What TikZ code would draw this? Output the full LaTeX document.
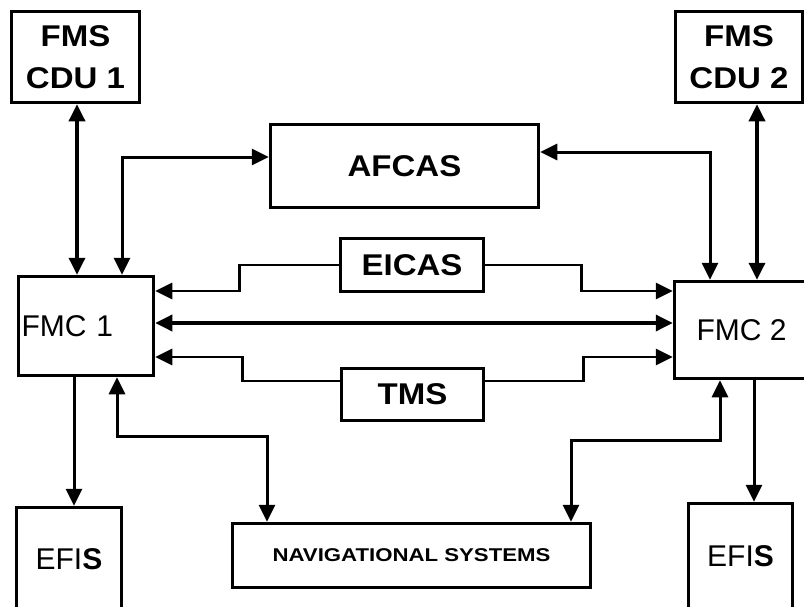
\documentclass[tikz,border=0pt]{standalone}
\usepackage{fontspec}
\setmainfont{Liberation Sans}
\newfontfamily\boldwide[FakeStretch=1.1]{Liberation Sans}
\newfontfamily\navfont[FakeStretch=1.2]{Liberation Sans}
\usetikzlibrary{arrows.meta}
\begin{document}
\begin{tikzpicture}[x=1pt,y=-1pt,
  >={Triangle[length=17pt 0 0,width=16pt 0 0]},
  box/.style={draw, line width=3.5pt, inner sep=0pt},
  big/.style={font=\boldwide\bfseries\fontsize{30}{42}\selectfont, align=center},
  reg/.style={font=\fontsize{30}{36}\selectfont},
  nav/.style={font=\navfont\bfseries\fontsize{18.5}{22}\selectfont},
  link/.style={line width=3pt},
  thinlink/.style={line width=2.7pt}]
\fill[white] (0,0) rectangle (804,606);
\useasboundingbox (0,0) rectangle (804,606);

% boxes
\node[box, big, minimum width=128pt, minimum height=91pt] (cdu1) at (75.5,57) {FMS\\CDU 1};
\node[box, big, minimum width=127pt, minimum height=91pt] (cdu2) at (739,57) {FMS\\CDU 2};
\node[box, big, minimum width=268pt, minimum height=83pt] (afcas) at (404.5,166) {AFCAS};
\node[box, big, minimum width=143pt, minimum height=53pt] (eicas) at (412,265) {EICAS};
\node[box, big, minimum width=142pt, minimum height=52pt] (tms) at (412.5,394.5) {TMS};
\node[box, reg, minimum width=135pt, minimum height=99pt, text width=129pt, inner xsep=3pt, align=left] (fmc1) at (86,326) {FMC 1};
\node[box, reg, minimum width=134pt, minimum height=97pt] (fmc2) at (741.5,330) {FMC 2};
\node[box, reg, minimum width=105pt, minimum height=103pt] (efis1) at (69,559) {EFI\textbf{S}};
\node[box, reg, minimum width=104pt, minimum height=105pt] (efis2) at (740.5,556) {EFI\textbf{S}};
\node[box, nav, minimum width=358pt, minimum height=64pt] (nav) at (411.5,555.5) {NAVIGATIONAL SYSTEMS};

% connectors
\draw[link, line width=3.5pt, <->] ([xshift=1.5pt]cdu1.south) -- ([xshift=-9pt]fmc1.north);
\draw[link, line width=3.5pt, <->] ([xshift=18pt]cdu2.south) -- ([xshift=15.5pt]fmc2.north);
\draw[link, <->] ([yshift=9pt]afcas.west) -| ([xshift=36pt]fmc1.north);
\draw[link, <->] ([yshift=14pt]afcas.east) -| ([xshift=-31.5pt]fmc2.north);
\draw[thinlink, ->] (eicas.west) -| ++(-99,26) -- ([yshift=35pt]fmc1.east);
\draw[thinlink, ->] (eicas.east) -| ++(96,26) -- ([yshift=39pt]fmc2.west);
\draw[link, line width=3.5pt, <->] ([yshift=3pt]fmc1.east) -- ([yshift=7pt]fmc2.west);
\draw[thinlink, ->] ([yshift=13.5pt]tms.west) -| ++(-97,-24) -- ([yshift=-31pt]fmc1.east);
\draw[thinlink, ->] ([yshift=13.5pt]tms.east) -| ++(98,-24) -- ([yshift=-27pt]fmc2.west);
\draw[link, <->] ([xshift=31pt]fmc1.south) -- ++(0,59) -| ([xshift=-144.5pt]nav.north);
\draw[link, <->] ([xshift=-21.5pt]fmc2.south) -- ++(0,60) -| ([xshift=159.5pt]nav.north);
\draw[link, ->] ([xshift=-12pt]fmc1.south) -- ([xshift=5pt]efis1.north);
\draw[link, ->] ([xshift=12.5pt]fmc2.south) -- ([xshift=13.5pt]efis2.north);
\end{tikzpicture}
\end{document}
